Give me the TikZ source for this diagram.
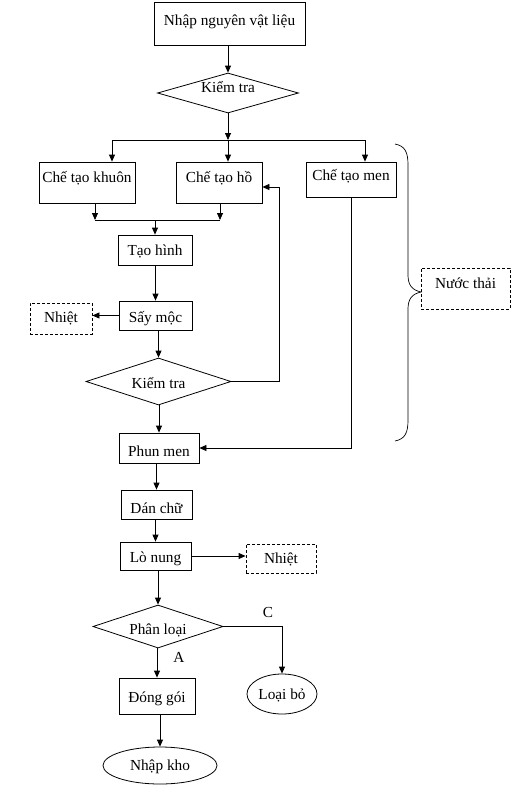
\documentclass[tikz,border=0pt]{standalone}
\usepackage{fontspec}
\setmainfont{Liberation Serif}
\usetikzlibrary{shapes.geometric,arrows.meta}
\newcommand\myfs{\fontsize{15.3}{18}\selectfont}
\begin{document}
\begin{tikzpicture}[x=1pt,y=-1pt,line width=0.8pt,
  txtb/.style={font=\myfs, inner sep=0pt, anchor=base},
  pbox/.style n args={3}{txtb, draw, rectangle, minimum width=#1, text height=#2, text depth=#3},
  dbox/.style n args={3}{pbox={#1}{#2}{#3}, dash pattern=on 3pt off 2pt},
  dia/.style n args={4}{font=\myfs, draw, diamond, aspect=3, inner sep=0pt, anchor=center, minimum width=#1, minimum height=#2, text height=#3, text depth=#4},
  ell/.style n args={4}{font=\myfs, draw, ellipse, inner sep=0pt, anchor=center, minimum width=#1, minimum height=#2, text height=#3, text depth=#4},
  lbl/.style={font=\myfs, inner sep=0pt},
  arr/.style={-{Triangle[length=7pt,width=6pt]}}]
\useasboundingbox (0,0) rectangle (513,785);

\node[pbox={151pt}{23pt}{20pt}] (nvl) at (229.5,25) {Nhập nguyên vật liệu};
\node[dia={141pt}{40pt}{10pt}{12pt}] (kt1) at (228,93) {Kiểm tra};
\node[pbox={96pt}{20pt}{21pt}] (khuon) at (87,182) {Chế tạo khuôn};
\node[pbox={86pt}{20pt}{21pt}] (ho) at (219,182) {Chế tạo hồ};
\node[pbox={90pt}{18pt}{17pt}] (men) at (351,180) {Chế tạo men};
\node[pbox={74pt}{20pt}{10pt}] (taohinh) at (155,255) {Tạo hình};
\node[pbox={73pt}{21pt}{8pt}] (saymoc) at (155.5,322) {Sấy mộc};
\node[dbox={62pt}{19pt}{12pt}] (nhiet1) at (61,322) {Nhiệt};
\node[dia={145pt}{47pt}{14pt}{1pt}] (kt2) at (158.5,381.5) {Kiểm tra};
\node[pbox={80pt}{23pt}{7pt}] (phunmen) at (159,456) {Phun men};
\node[pbox={71pt}{23pt}{6pt}] (danchu) at (156.5,513) {Dán chữ};
\node[pbox={71pt}{20pt}{8pt}] (lonung) at (155.5,562) {Lò nung};
\node[dbox={70pt}{19pt}{10pt}] (nhiet2) at (281,563) {Nhiệt};
\node[dia={130pt}{43pt}{16pt}{1pt}] (phanloai) at (158,626.5) {Phân loại};
\node[ell={70pt}{40pt}{12pt}{2pt}] (loaibo) at (282,694) {Loại bỏ};
\node[pbox={76pt}{24pt}{12pt}] (donggoi) at (157,702) {Đóng gói};
\node[ell={114pt}{37pt}{11pt}{2pt}] (nhapkho) at (160,765.5) {Nhập kho};
\node[dbox={89pt}{20pt}{21pt}] (nuocthai) at (465.5,288) {Nước thải};
\node[lbl] (labC) at (268,613) {C};
\node[lbl] (labA) at (179,657) {A};

\coordinate (split) at (228,140);
\coordinate (bL) at (112,140);
\coordinate (bR) at (365,140);
\coordinate (mL) at (95,220);
\coordinate (mR) at (220,220);
\coordinate (mM) at (156,220);
\coordinate (fb) at (279,187);

\draw[arr] (kt1.north |- nvl.south) -- (kt1.north);
\draw[arr] (kt1.south) -- (split);
\draw (bL) -- (bR);
\draw[arr] (bL) -- (bL |- khuon.north);
\draw[arr] (split) -- (split |- ho.north);
\draw[arr] (bR) -- (bR |- men.north);
\draw[arr] (mL |- khuon.south) -- (mL);
\draw[arr] (mR |- ho.south) -- (mR);
\draw (mL) -- (mR);
\draw[arr] (taohinh.north |- mM) -- (taohinh.north);
\draw[arr] (saymoc.north |- taohinh.south) -- (saymoc.north);
\draw[arr] (saymoc.west) -- (saymoc.west -| nhiet1.east);
\draw[arr] (kt2.north |- saymoc.south) -- (kt2.north);
\draw[arr] (kt2.east) -| (fb) -- (fb -| ho.east);
\draw[arr] (phunmen.north |- kt2.south) -- (phunmen.north);
\draw[arr] (men.south) |- (phunmen.east);
\draw[arr] (danchu.north |- phunmen.south) -- (danchu.north);
\draw[arr] (lonung.north |- danchu.south) -- (lonung.north);
\draw[arr] (lonung.east) -- (lonung.east -| nhiet2.west);
\draw[arr] (phanloai.north |- lonung.south) -- (phanloai.north);
\draw[arr] (phanloai.east) -| (loaibo.north);
\draw[arr] (donggoi.north |- phanloai.south) -- (donggoi.north);
\draw[arr] (nhapkho.north |- donggoi.south) -- (nhapkho.north);

\draw[line width=0.7pt] (395,144) .. controls (405,146) and (408,152) .. (408,165) -- (408,275)
  .. controls (408,285) and (412,290) .. (421,292)
  .. controls (412,294) and (408,299) .. (408,309) -- (408,420)
  .. controls (408,433) and (405,439) .. (395,441);
\end{tikzpicture}
\end{document}
